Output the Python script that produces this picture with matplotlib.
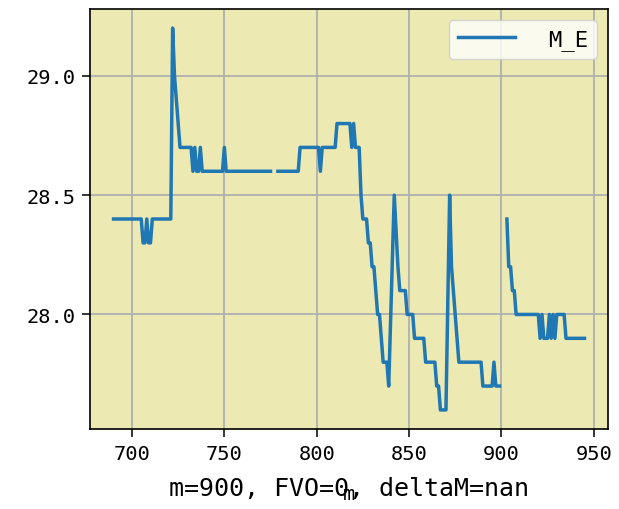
import numpy as np
import matplotlib
matplotlib.use("Agg")
import matplotlib.pyplot as plt

plt.rcParams["font.family"] = ["DejaVu Sans Mono", "DejaVu Sans"]

# vertices of the M_E trace (m on x); nan marks a gap in the record
m_values = [
    690, 705, 706, 707, 708, 709, 710, 711, 721, 722, 723, 724, 725, 726,
    732, 733, 734, 735, 736, 737, 738, 749, 750, 751, 775, 777,
    779, 790, 791, 801, 802, 803, 810, 811, 818, 819, 820, 821, 823, 824,
    825, 827, 828, 829, 830, 831, 832, 833, 834, 835, 836, 838, 839, 842,
    844, 845, 848, 849, 852, 853, 858, 859, 864, 865, 866, 867, 870, 872,
    873, 874, 875, 876, 877, 889, 890, 895, 896, 897, 899, 901,
    903, 904, 905, 906, 907, 908, 920, 921, 922, 923, 925, 926, 927, 928,
    929, 930, 934, 935, 945,
]
me_values = [
    28.4, 28.4, 28.3, 28.3, 28.4, 28.3, 28.3, 28.4, 28.4, 29.2, 29.0, 28.9, 28.8, 28.7,
    28.7, 28.6, 28.7, 28.6, 28.6, 28.7, 28.6, 28.6, 28.7, 28.6, 28.6, np.nan,
    28.6, 28.6, 28.7, 28.7, 28.6, 28.7, 28.7, 28.8, 28.8, 28.7, 28.8, 28.7, 28.7, 28.5,
    28.4, 28.4, 28.3, 28.3, 28.2, 28.2, 28.1, 28.0, 28.0, 27.9, 27.8, 27.8, 27.7, 28.5,
    28.2, 28.1, 28.1, 28.0, 28.0, 27.9, 27.9, 27.8, 27.8, 27.7, 27.7, 27.6, 27.6, 28.5,
    28.2, 28.1, 28.0, 27.9, 27.8, 27.8, 27.7, 27.7, 27.8, 27.7, 27.7, np.nan,
    28.4, 28.2, 28.2, 28.1, 28.1, 28.0, 28.0, 27.9, 28.0, 27.9, 27.9, 28.0, 27.9, 28.0,
    27.9, 28.0, 28.0, 27.9, 27.9,
]
y_ticks = [28.0, 28.5, 29.0]
series_label = "M_E"
note = "m=900, FVO=0, deltaM=nan"

fig = plt.figure(figsize=(6.19, 5.10), dpi=100)
ax = fig.add_axes([90 / 619, 80 / 510, 518 / 619, 420 / 510])
ax.set_facecolor("#ece9b3")

ax.plot(m_values, me_values, color="#1f77b4", linewidth=2.5, label=series_label)

ax.set_yticks(y_ticks)
ax.grid(True, color="#b0b0b0", linewidth=1.3)
ax.set_axisbelow(True)
ax.tick_params(labelsize=14.7, length=5.5, width=1.1, pad=5)
for spine in ax.spines.values():
    spine.set_linewidth(1.2)

ax.legend(loc="upper right", fontsize=16, handlelength=2.55, handletextpad=1.5,
          borderaxespad=0.5)

ax.set_xlabel("m", fontsize=14.7)
ax.xaxis.set_label_coords(0.5, -0.167)
ax.xaxis.label.set_verticalalignment("baseline")
ax.text(0.5, -0.157, note, transform=ax.transAxes, ha="center", va="baseline",
        fontsize=18)

fig.savefig("out.png", dpi=100)
